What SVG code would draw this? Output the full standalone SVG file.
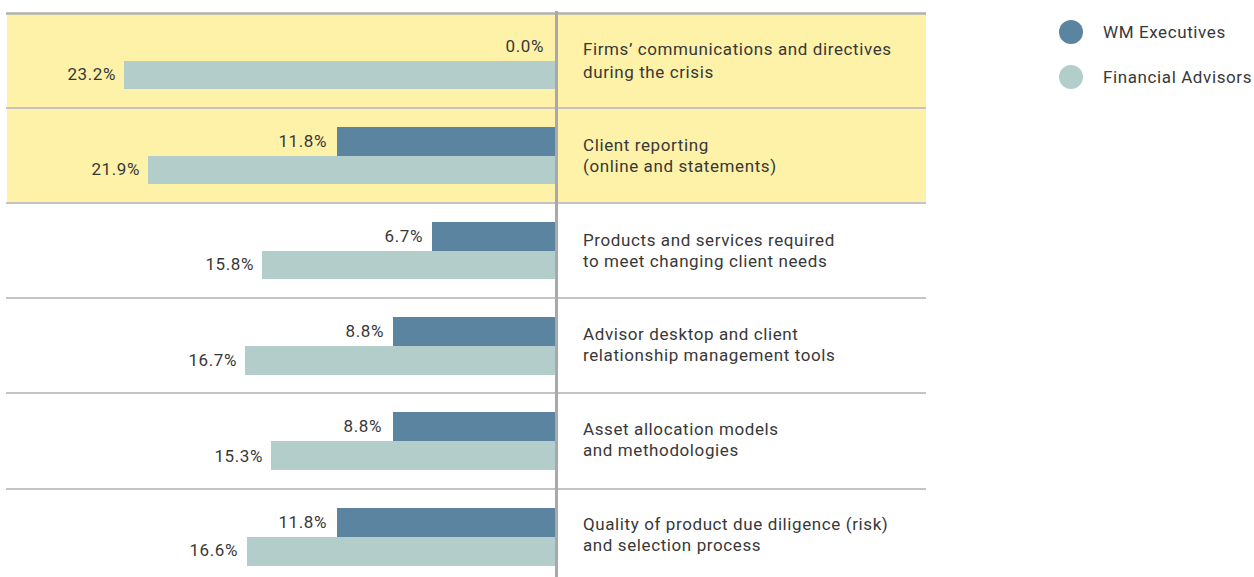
<svg xmlns="http://www.w3.org/2000/svg" width="1254" height="577" viewBox="0 0 1254 577">
<style>
text{font-family:"Roboto","Liberation Sans",sans-serif;font-size:17px;letter-spacing:0.6px;fill:#383838;}
.v{text-anchor:end;}
.wm{fill:#5B84A0;}
.fa{fill:#B2CDCA;}
.hl{fill:#FEF1A8;}
.div{stroke:#C4C4C4;stroke-width:2;}
</style>
<rect width="1254" height="577" fill="#fff"/>
<g id="highlight">
<rect class="hl" x="7" y="14" width="919" height="188"/>
</g>
<g id="connectors">
<line class="div" x1="6" y1="13.5" x2="926" y2="13.5" style="stroke:#B0B0B0;stroke-width:2.5"/>
<line class="div" x1="6" y1="108" x2="926" y2="108"/>
<line class="div" x1="6" y1="203" x2="926" y2="203"/>
<line class="div" x1="6" y1="298" x2="926" y2="298"/>
<line class="div" x1="6" y1="393" x2="926" y2="393"/>
<line class="div" x1="6" y1="489" x2="926" y2="489"/>
</g>
<g id="row1">
<text class="v" x="544" y="52">0.0%</text>
<rect class="fa" x="124" y="61" width="431" height="28"/>
<text class="v" x="116" y="80">23.2%</text>
<text x="583" y="55">Firms’ communications and directives</text>
<text x="583" y="78">during the crisis</text>
</g>
<g id="row2">
<rect class="wm" x="337" y="127" width="218" height="29"/>
<rect class="fa" x="148" y="156" width="407" height="28"/>
<text class="v" x="327" y="147">11.8%</text>
<text class="v" x="140" y="175">21.9%</text>
<text x="583" y="151">Client reporting</text>
<text x="583" y="172">(online and statements)</text>
</g>
<g id="row3">
<rect class="wm" x="432" y="222" width="123" height="29"/>
<rect class="fa" x="262" y="251" width="293" height="28"/>
<text class="v" x="423" y="242">6.7%</text>
<text class="v" x="254" y="270">15.8%</text>
<text x="583" y="246">Products and services required</text>
<text x="583" y="267">to meet changing client needs</text>
</g>
<g id="row4">
<rect class="wm" x="393" y="317" width="162" height="29"/>
<rect class="fa" x="245" y="346" width="310" height="29"/>
<text class="v" x="384" y="337">8.8%</text>
<text class="v" x="237" y="366">16.7%</text>
<text x="583" y="340">Advisor desktop and client</text>
<text x="583" y="361">relationship management tools</text>
</g>
<g id="row5">
<rect class="wm" x="393" y="412" width="162" height="29"/>
<rect class="fa" x="271" y="441" width="284" height="29"/>
<text class="v" x="382" y="432">8.8%</text>
<text class="v" x="263" y="462">15.3%</text>
<text x="583" y="435">Asset allocation models</text>
<text x="583" y="456">and methodologies</text>
</g>
<g id="row6">
<rect class="wm" x="337" y="508" width="218" height="29"/>
<rect class="fa" x="247" y="537" width="308" height="29"/>
<text class="v" x="327" y="528">11.8%</text>
<text class="v" x="238" y="556">16.6%</text>
<text x="583" y="530">Quality of product due diligence (risk)</text>
<text x="583" y="551">and selection process</text>
</g>
<g id="axis">
<line x1="556.5" y1="11" x2="556.5" y2="577" stroke="#A9A9AC" stroke-width="3"/>
</g>
<g id="legend">
<circle class="wm" cx="1071" cy="32" r="12"/>
<text x="1103" y="38">WM Executives</text>
<circle class="fa" cx="1071" cy="77" r="12"/>
<text x="1103" y="83">Financial Advisors</text>
</g>
</svg>
